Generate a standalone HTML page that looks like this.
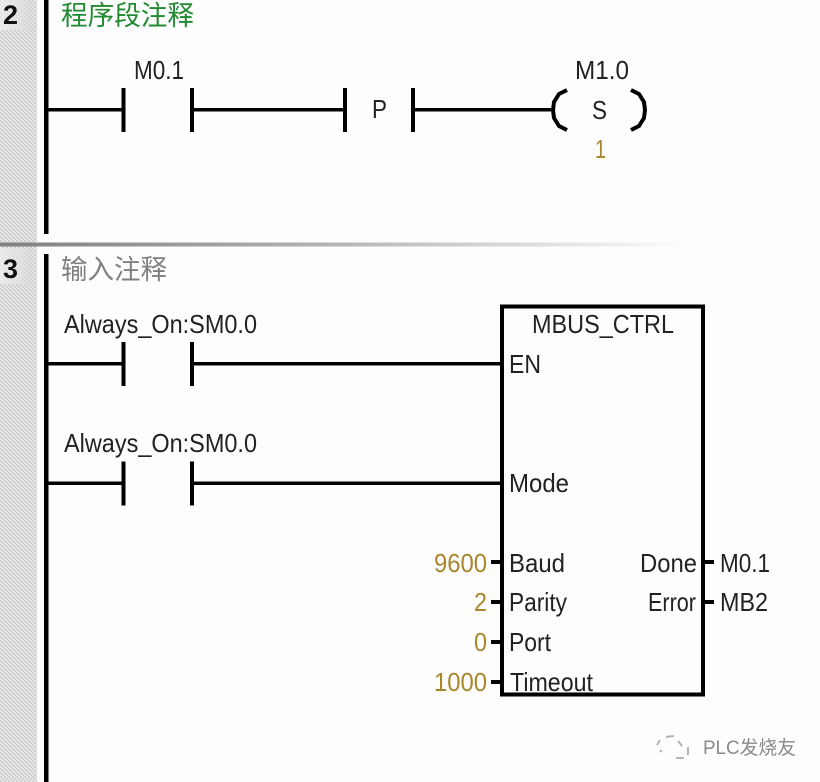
<!DOCTYPE html>
<html><head><meta charset="utf-8"><style>
html,body{margin:0;padding:0;background:#fdfdfe;width:820px;height:782px;overflow:hidden}
svg{display:block}
text{font-family:"Liberation Sans","Noto Sans CJK SC",sans-serif;fill:#222;font-size:26px}
.o{fill:#a8862a}
</style></head><body>
<svg width="820" height="782" viewBox="0 0 820 782" xmlns="http://www.w3.org/2000/svg">
<defs>
<pattern id="h" width="4" height="4" patternUnits="userSpaceOnUse">
<rect width="4" height="4" fill="#e6e6e6"/>
<path d="M0 0L4 4" stroke="#c8c8c8" stroke-width="1.2"/>
</pattern>
<linearGradient id="l" x1="0" x2="1" y1="0" y2="0">
<stop offset="0" stop-color="#808080"/><stop offset=".45" stop-color="#b0b0b0"/><stop offset="1" stop-color="#fdfdfe"/>
</linearGradient>
<linearGradient id="n" x1="0" x2="1" y1="0" y2="0">
<stop offset="0" stop-color="#eeeeee"/><stop offset=".6" stop-color="#e2e2e2"/><stop offset="1" stop-color="#d8d8d8" stop-opacity="0"/>
</linearGradient>
</defs>
<rect x="0" y="0" width="37" height="782" fill="url(#h)"/>
<rect x="0" y="0" width="36" height="30" fill="url(#n)" opacity=".8"/>
<rect x="0" y="248" width="36" height="36" fill="url(#n)" opacity=".8"/>
<rect x="0" y="242.500" width="690" height="4" fill="url(#l)"/>

<text x="3" y="24" style="font-size:27px;font-weight:bold;fill:#111">2</text>
<text x="3" y="278" style="font-size:27px;font-weight:bold;fill:#111">3</text>

<g fill="#000">
<rect x="44" y="0" width="4.5" height="234"/>
<rect x="44" y="254" width="4.5" height="528"/>
<rect x="46" y="108" width="77" height="3.500"/>
<rect x="121.500" y="88" width="4" height="44"/>
<rect x="190" y="88" width="4" height="44"/>
<rect x="192" y="108" width="153" height="3.500"/>
<rect x="343" y="88" width="4" height="44"/>
<rect x="411" y="88" width="4" height="44"/>
<rect x="413" y="108" width="138" height="3.500"/>
<rect x="46" y="362" width="77" height="3.500"/>
<rect x="121.500" y="342" width="4" height="44"/>
<rect x="190" y="342" width="4" height="44"/>
<rect x="192" y="362" width="309" height="3.500"/>
<rect x="46" y="481.500" width="77" height="3.500"/>
<rect x="121.500" y="461.500" width="4" height="44"/>
<rect x="190" y="461.500" width="4" height="44"/>
<rect x="192" y="481.500" width="309" height="3.500"/>
<rect x="491" y="560" width="10" height="4"/>
<rect x="491" y="600" width="10" height="4"/>
<rect x="491" y="640" width="10" height="4"/>
<rect x="491" y="680" width="10" height="4"/>
<rect x="704" y="560" width="10" height="4"/>
<rect x="704" y="600" width="10" height="4"/>
</g>
<rect x="502" y="306.500" width="201" height="388" fill="none" stroke="#000" stroke-width="4"/>
<path d="M567 90L559 94L554 102L553 110L554 118L559 126L567 130" fill="none" stroke="#000" stroke-width="4"/>
<path d="M631 90L639 94L644 102L645 110L644 118L639 126L631 130" fill="none" stroke="#000" stroke-width="4"/>

<text x="61" y="25" style="font-size:27px;fill:#1f8a2e" textLength="133" lengthAdjust="spacingAndGlyphs">程序段注释</text>
<text x="61" y="279" style="font-size:27px;fill:#808080" textLength="106" lengthAdjust="spacingAndGlyphs">输入注释</text>

<text x="134" y="79" textLength="50" lengthAdjust="spacingAndGlyphs">M0.1</text>
<text x="372" y="118" textLength="15" lengthAdjust="spacingAndGlyphs">P</text>
<text x="575" y="79" textLength="54" lengthAdjust="spacingAndGlyphs">M1.0</text>
<text x="592" y="119" textLength="15" lengthAdjust="spacingAndGlyphs">S</text>
<text x="595" y="158" class="o" textLength="11" lengthAdjust="spacingAndGlyphs">1</text>

<text x="64" y="333" textLength="193" lengthAdjust="spacingAndGlyphs">Always_On:SM0.0</text>
<text x="64" y="452" textLength="193" lengthAdjust="spacingAndGlyphs">Always_On:SM0.0</text>

<text x="532" y="333" textLength="142" lengthAdjust="spacingAndGlyphs">MBUS_CTRL</text>
<text x="509" y="373" textLength="32" lengthAdjust="spacingAndGlyphs">EN</text>
<text x="509" y="492" textLength="60" lengthAdjust="spacingAndGlyphs">Mode</text>
<text x="509" y="572" textLength="56" lengthAdjust="spacingAndGlyphs">Baud</text>
<text x="509" y="611" textLength="58" lengthAdjust="spacingAndGlyphs">Parity</text>
<text x="509" y="651" textLength="42" lengthAdjust="spacingAndGlyphs">Port</text>
<text x="510" y="691" textLength="83" lengthAdjust="spacingAndGlyphs">Timeout</text>
<text x="640" y="572" textLength="57" lengthAdjust="spacingAndGlyphs">Done</text>
<text x="648" y="611" textLength="48" lengthAdjust="spacingAndGlyphs">Error</text>
<text x="720" y="572" textLength="50" lengthAdjust="spacingAndGlyphs">M0.1</text>
<text x="720" y="611" textLength="48" lengthAdjust="spacingAndGlyphs">MB2</text>

<text x="434" y="572" class="o" textLength="53" lengthAdjust="spacingAndGlyphs">9600</text>
<text x="474" y="611" class="o" textLength="13" lengthAdjust="spacingAndGlyphs">2</text>
<text x="474" y="651" class="o" textLength="13" lengthAdjust="spacingAndGlyphs">0</text>
<text x="434" y="691" class="o" textLength="53" lengthAdjust="spacingAndGlyphs">1000</text>

<path d="M657 745l3-5M666 737l8-1M678 741l4 5M676 758h8M688 747v8M660 750l2 2" fill="none" stroke="#b5b5b5" stroke-width="2"/>
<text x="703" y="754" style="font-size:19px;fill:#8a8a8a" textLength="93" lengthAdjust="spacingAndGlyphs">PLC发烧友</text>
</svg>
</body></html>
